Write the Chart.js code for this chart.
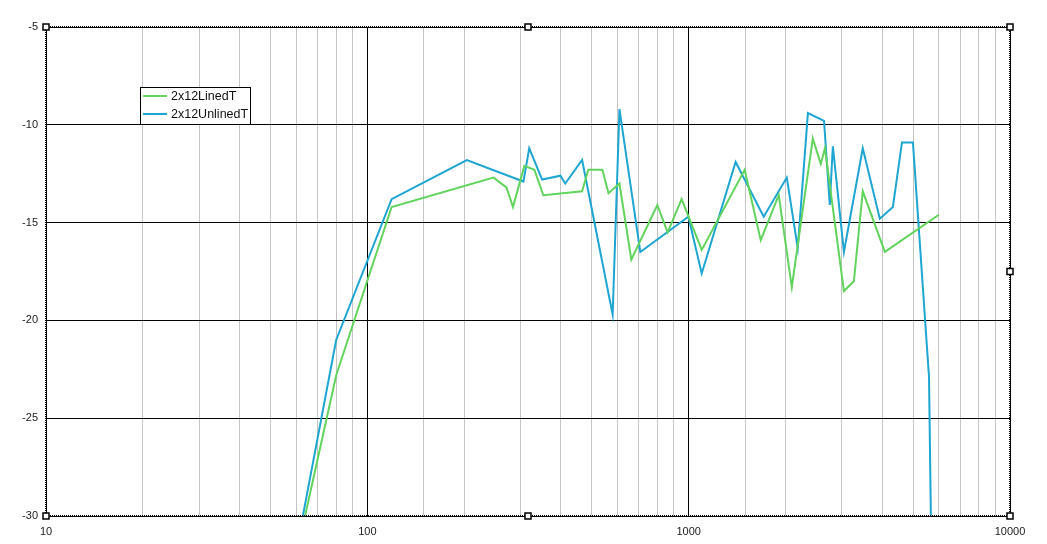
<!DOCTYPE html>
<html>
<head>
<meta charset="utf-8">
<script src="https://cdn.jsdelivr.net/npm/chart.js@4/dist/chart.umd.min.js"></script>
<style>
  html, body { margin: 0; padding: 0; background: #fff; }
  #wrap { width: 1047px; height: 544px; }
</style>
</head>
<body>
<div id="wrap"><canvas id="chart"></canvas></div>
<script>
// frequency (Hz) / level (dB)
var linedFreq = [64, 80, 119, 247, 271, 284, 308, 331, 353, 466, 487, 539, 563, 609, 663, 799, 860, 951, 1098, 1494, 1676, 1907, 2094, 2434, 2577, 2655, 3042, 3267, 3482, 4079, 6005];
var linedDb   = [-30, -22.8, -14.2, -12.7, -13.2, -14.2, -12.1, -12.3, -13.6, -13.4, -12.3, -12.3, -13.5, -13.0, -16.9, -14.1, -15.5, -13.8, -16.4, -12.3, -15.9, -13.6, -18.3, -10.7, -12.0, -11.2, -18.5, -18.0, -13.4, -16.5, -14.6];

var unlinedFreq = [63, 80, 119, 204, 306, 319, 350, 399, 413, 466, 580, 609, 707, 998, 1098, 1400, 1712, 2020, 2185, 2350, 2638, 2749, 2810, 3042, 3482, 3934, 4321, 4611, 4988, 5597, 5672];
var unlinedDb   = [-30, -21.0, -13.8, -11.8, -12.9, -11.2, -12.8, -12.6, -13.0, -11.8, -19.7, -9.2, -16.5, -14.7, -17.6, -11.9, -14.7, -12.7, -16.3, -9.4, -9.8, -14.1, -11.1, -16.5, -11.2, -14.8, -14.2, -10.9, -10.9, -22.9, -30];

var seriesNames = ["2x12LinedT", "2x12UnlinedT"];
var seriesColors = ["#62d35c", "#1ea5d2"];

var xMin = 10, xMax = 10000;
var yMin = -30, yMax = -5, yStep = 5;

function toPoints(xs, ys) {
  return xs.map(function (x, i) { return { x: x, y: ys[i] }; });
}

function isDecade(v) {
  var l = Math.log10(v);
  return Math.abs(l - Math.round(l)) < 1e-9;
}

// dotted plot frame, the little handles on it and the boxed legend
var frame = {
  id: 'frame',
  afterDraw: function (chart) {
    var c = chart.ctx, a = chart.chartArea;
    c.save();
    c.strokeStyle = '#000';
    c.lineWidth = 2;
    c.setLineDash([1, 1]);
    c.strokeRect(a.left, a.top, a.right - a.left, a.bottom - a.top);
    c.setLineDash([]);

    var mx = (a.left + a.right) / 2, my = (a.top + a.bottom) / 2;
    var handles = [[a.left, a.top], [mx, a.top], [a.right, a.top], [a.right, my],
                   [a.right, a.bottom], [mx, a.bottom], [a.left, a.bottom]];
    c.lineWidth = 1.5;
    handles.forEach(function (h) {
      c.fillStyle = '#fff';
      c.fillRect(h[0] - 3, h[1] - 3, 6, 6);
      c.strokeRect(h[0] - 3, h[1] - 3, 6, 6);
    });

    // legend
    var lx = 140.5, ly = 87.5, lw = 110, lh = 37;
    c.fillStyle = '#fff';
    c.fillRect(lx, ly, lw, lh);
    c.strokeStyle = '#000';
    c.lineWidth = 1;
    c.strokeRect(lx, ly, lw, lh);
    c.font = '12.5px "Liberation Sans", Arial, sans-serif';
    c.textBaseline = 'middle';
    chart.data.datasets.forEach(function (ds, i) {
      var yy = 96 + i * 18;
      c.strokeStyle = ds.borderColor;
      c.lineWidth = 2;
      c.beginPath();
      c.moveTo(143, yy);
      c.lineTo(167, yy);
      c.stroke();
      c.fillStyle = '#111';
      c.fillText(ds.label, 171, yy + 1);
    });
    c.restore();
  }
};

new Chart(document.getElementById('chart'), {
  type: 'line',
  data: {
    datasets: [
      {
        label: seriesNames[0],
        data: toPoints(linedFreq, linedDb),
        borderColor: seriesColors[0],
        backgroundColor: seriesColors[0],
        borderWidth: 2,
        pointRadius: 0,
        tension: 0
      },
      {
        label: seriesNames[1],
        data: toPoints(unlinedFreq, unlinedDb),
        borderColor: seriesColors[1],
        backgroundColor: seriesColors[1],
        borderWidth: 2,
        pointRadius: 0,
        tension: 0
      }
    ]
  },
  options: {
    responsive: true,
    maintainAspectRatio: false,
    animation: false,
    layout: { padding: { top: 27, right: 37, left: 0, bottom: 0 } },
    plugins: {
      legend: { display: false },
      tooltip: { enabled: false }
    },
    scales: {
      x: {
        type: 'logarithmic',
        min: xMin,
        max: xMax,
        afterFit: function (s) { s.height = 28; },
        border: { display: false },
        grid: {
          drawTicks: false,
          lineWidth: 1,
          color: function (ctx) { return ctx.tick && isDecade(ctx.tick.value) ? '#000' : '#c4c4c4'; }
        },
        ticks: {
          autoSkip: false,
          maxRotation: 0,
          padding: 9,
          color: '#222',
          font: { family: '"Liberation Sans", Arial, sans-serif', size: 11 },
          callback: function (v) { return isDecade(v) ? String(v) : ''; }
        }
      },
      y: {
        min: yMin,
        max: yMax,
        afterFit: function (s) { s.width = 46; },
        border: { display: false },
        grid: { drawTicks: false, color: '#000', lineWidth: 1 },
        ticks: {
          stepSize: yStep,
          padding: 8,
          color: '#222',
          font: { family: '"Liberation Sans", Arial, sans-serif', size: 11 }
        }
      }
    }
  },
  plugins: [frame]
});
</script>
</body>
</html>
